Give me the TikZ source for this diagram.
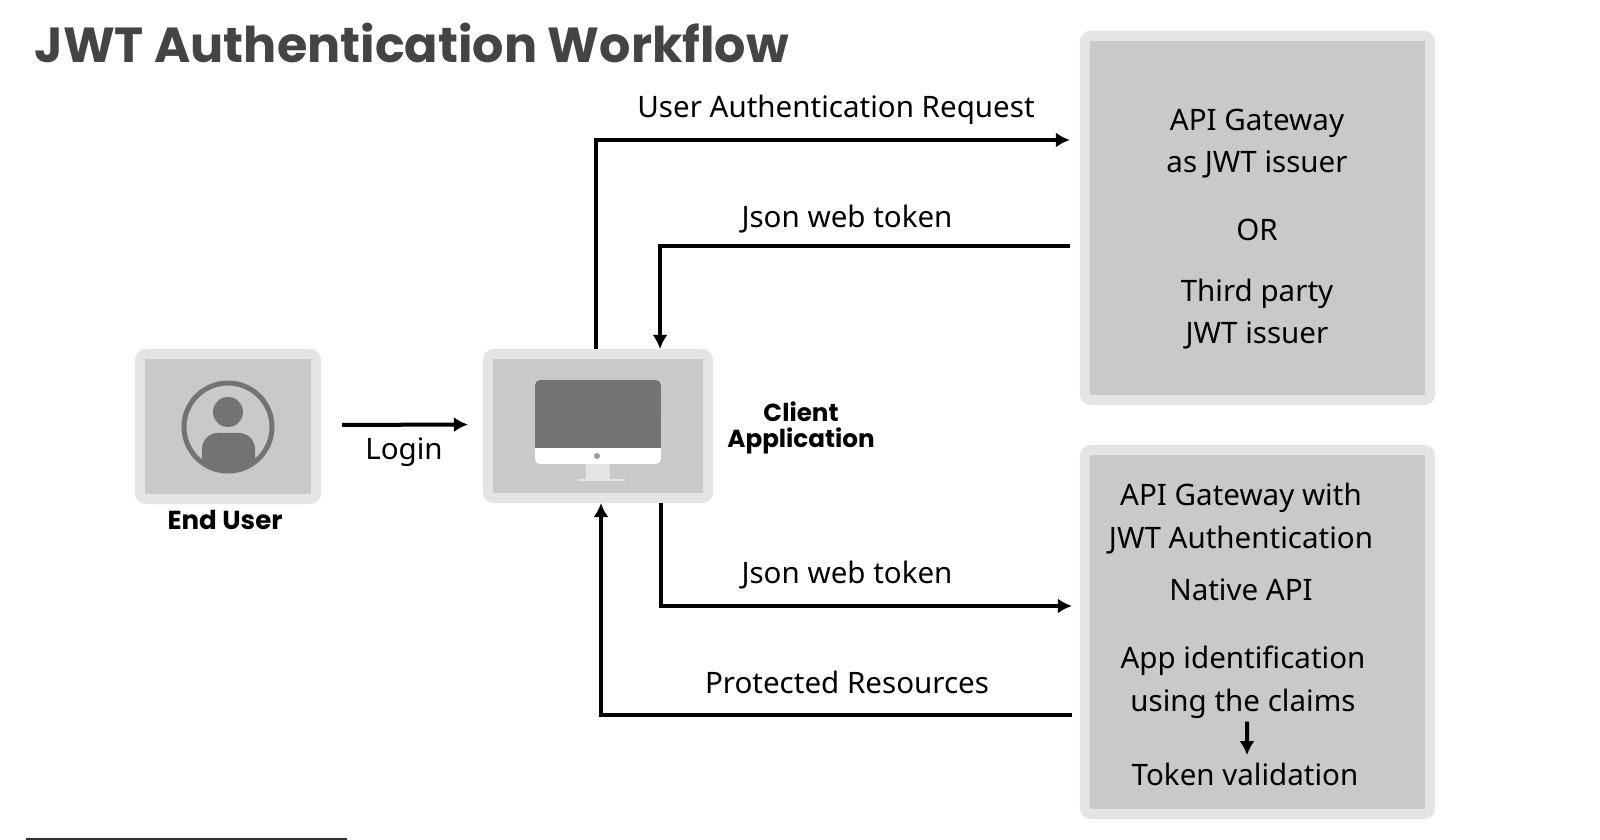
\documentclass[tikz,border=0pt]{standalone}
\usepackage{fontspec}
\setmainfont{Noto Sans}
\newfontfamily\headfont{Poppins}[BoldFont={* Bold}]
\usetikzlibrary{positioning,arrows.meta}
\definecolor{boxedge}{HTML}{E4E4E4}
\definecolor{boxfill}{HTML}{C9C9C9}
\definecolor{icongray}{HTML}{737373}
\definecolor{titlegray}{HTML}{444444}
\tikzset{
  panel/.style={draw=boxedge,fill=boxfill,line width=1mm,rounded corners=0.6mm,inner sep=0pt},
  flow/.style={->,line width=0.4mm},
  lbl/.style={anchor=base,font=\fontsize{8.4}{11.95}\selectfont,align=center},
  heavy/.style={anchor=base,font=\headfont\bfseries\fontsize{7.4}{7.6}\selectfont,align=center},
}
\begin{document}
\begin{tikzpicture}[x=0.01cm,y=-0.01cm,>={Latex[length=1.4mm,width=1.5mm]}]
  \useasboundingbox (0,0) rectangle (1600,840);

  \node[anchor=base west,inner sep=0pt,text=titlegray,font=\headfont\bfseries\fontsize{14}{15}\selectfont] (title) at (34,63) {JWT Authentication Workflow};

  % boxes
  \node[panel,minimum width=1.76cm,minimum height=1.45cm] (user) at (228,426.5) {};
  \node[panel,minimum width=2.2cm,minimum height=1.44cm] (client) at (598,426) {};
  \node[panel,minimum width=3.45cm,minimum height=3.64cm] (issuer) at (1257.5,218) {};
  \node[panel,minimum width=3.45cm,minimum height=3.64cm] (gateway) at (1257.5,632) {};

  % avatar
  \begin{scope}
    \clip (228,427) circle (46);
    \fill[icongray,rounded corners=0.16cm] (202,433) rectangle (255,500);
  \end{scope}
  \draw[icongray,line width=0.5mm] (228,427) circle (44);
  \fill[icongray] (228,412) circle (15);

  % monitor
  \fill[white,rounded corners=0.05cm] (535,380) rectangle (661,464);
  \fill[icongray,rounded corners=0.05cm] (535,380) rectangle (661,420);
  \fill[icongray] (535,400) rectangle (661,448);
  \fill[gray!80] (597,456) circle (3);
  \fill[boxedge] (586,464) rectangle (610,480);
  \fill[boxedge] (578,479) rectangle (625,481);

  % labels
  \node[heavy] (enduser) at (225,529) {End User};
  \node[heavy,font=\headfont\bfseries\fontsize{7}{7.6}\selectfont] (clientapp) at (801,448) {Client\\Application};
  \node[lbl] (login) at (404,459) {Login};
  \node[lbl] (req) at (836,118) {User Authentication Request};
  \node[lbl] (tokenback) at (847,228) {Json web token};
  \node[lbl] (tokenout) at (847,583) {Json web token};
  \node[lbl] (res) at (847,693) {Protected Resources};

  \node[lbl] (asissuer) at (1257,173) {API Gateway\\as JWT issuer};
  \node[lbl] (orword) at (1257,241) {OR};
  \node[lbl] (third) at (1257,344) {Third party\\JWT issuer};

  \node[lbl] (withjwt) at (1241,548) {API Gateway with\\JWT Authentication};
  \node[lbl] (native) at (1241,600) {Native API};
  \node[lbl] (appid) at (1243,711) {App identification\\using the claims};
  \node[lbl] (valid) at (1245,785) {Token validation};

  % connectors
  \draw[flow,shorten <=2.1mm,shorten >=1.5mm] ([yshift=0.015cm]user.east) -- ([yshift=0.015cm]client.west);
  \draw[flow,shorten >=1mm] ([xshift=-0.02cm]client.north) |- ([yshift=0.78cm]issuer.west);
  \draw[flow,shorten <=1mm] ([yshift=-0.28cm]issuer.west) -| ([xshift=0.62cm]client.north);
  \draw[flow,shorten >=0.8mm] ([xshift=0.63cm]client.south) |- ([yshift=0.26cm]gateway.west);
  \draw[flow,shorten <=0.8mm] ([yshift=-0.83cm]gateway.west) -| ([xshift=0.03cm]client.south);
  \draw[flow,shorten <=-0.9mm,shorten >=-0.5mm] ([xshift=0.04cm]appid.south) -- ([xshift=0.02cm]valid.north);

  % stray rule at the bottom edge
  \coordinate (rulea) at (26,839);
  \coordinate (ruleb) at (347,839);
  \draw[line width=0.15mm,black!80] (rulea) -- (ruleb);
\end{tikzpicture}
\end{document}
